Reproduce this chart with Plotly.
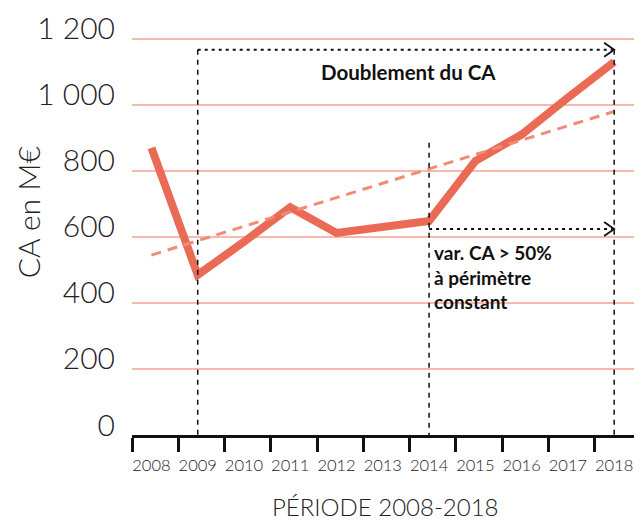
import plotly.graph_objects as go

years = [2008, 2009, 2010, 2011, 2012, 2013, 2014, 2015, 2016, 2017, 2018]
year_labels = ["2008", "2009", "2010", "2011", "2012", "2013", "2014", "2015", "2016", "2017", "2018"]
ca_values = [870, 485, 585, 690, 612, 628, 648, 830, 910, 1022, 1130]
trend_years = [2008, 2018]
trend_values = [545, 980]
y_tickvals = [0, 200, 400, 600, 800, 1000, 1200]
y_ticktext = ["0", "200", "400", "600", "800", "1 000", "1 200"]

LINE = "#eb6a55"
TREND = "#f08b76"
GRID = "#f9b8ac"
TXT = "#222222"
FONT = "Lato"
INK = "#111111"

fig = go.Figure()
fig.add_trace(go.Scatter(x=years, y=ca_values, mode="lines",
                         line=dict(color=LINE, width=8), hoverinfo="skip"))
fig.add_trace(go.Scatter(x=trend_years, y=trend_values, mode="lines",
                         line=dict(color=TREND, width=3, dash="10px,7px"), hoverinfo="skip"))

top_y = 1167
mid_y = 624
# vertical dashed guides
for yr, y0 in [(2009, top_y), (2018, top_y), (2014, 885)]:
    fig.add_shape(type="line", xref="x", yref="y", x0=yr, x1=yr, y0=y0, y1=-42,
                  line=dict(color=INK, width=1.5, dash="5px,5px"), layer="above")
# horizontal dotted arrows
for x0, yv in [(2009, top_y), (2014, mid_y)]:
    fig.add_shape(type="line", xref="x", yref="y", x0=x0, x1=2018, y0=yv, y1=yv,
                  line=dict(color=INK, width=2, dash="3px,4px"), layer="above")
    fig.add_shape(type="path", xref="x", yref="y", xsizemode="pixel", ysizemode="pixel",
                  xanchor=2018, yanchor=yv, path="M -10 7 L 0 0 L -10 -7",
                  line=dict(color=INK, width=1.8), layer="above")

fig.add_annotation(x=0.544, xref="paper", y=1100, yref="y", text="<b>Doublement du CA</b>",
                   showarrow=False, font=dict(family=FONT, size=20.5, color=INK))
fig.add_annotation(x=2014, xref="x", y=594, yref="y", xanchor="left", yanchor="top", xshift=3,
                   text="<b>var. CA > 50%<br>à périmètre<br>constant</b>", align="left",
                   showarrow=False, font=dict(family=FONT, size=19, color=INK))
fig.add_annotation(x=-0.204, xref="paper", y=0.536, yref="paper", text="CA en M€", textangle=-90,
                   xanchor="center", yanchor="middle",
                   showarrow=False, font=dict(family=FONT, size=30, color=TXT, weight=300))
fig.add_annotation(x=0.499, xref="paper", y=-0.172, yref="paper", text="PÉRIODE 2008-2018",
                   xanchor="center", yanchor="middle",
                   showarrow=False, font=dict(family=FONT, size=24, color=TXT, weight=300))

fig.update_layout(
    width=634, height=518,
    margin=dict(l=124, r=1, t=11, b=91, autoexpand=False),
    paper_bgcolor="white", plot_bgcolor="white",
    showlegend=False,
    font=dict(family=FONT, color=TXT, weight=300),
    xaxis=dict(range=[2007.58, 2018.58], tickvals=years, ticktext=year_labels, ticks="",
               ticklabelstandoff=13,
               minor=dict(ticks="outside", tickmode="linear", tick0=2007.58, dtick=1,
                          ticklen=14, tickwidth=3, tickcolor=INK, showgrid=False),
               showline=True, linecolor=INK, linewidth=3, zeroline=False,
               showgrid=False, tickfont=dict(size=16.5, color=TXT, weight=300), automargin=False,
               fixedrange=True),
    yaxis=dict(range=[0, 1260], tickvals=y_tickvals, ticktext=y_ticktext, automargin=False,
               showgrid=True, gridcolor=GRID, gridwidth=1.5, zeroline=False, showline=False,
               ticks="", ticklabelstandoff=16, ticklabelshift=-10,
               tickfont=dict(size=30, color=TXT, weight=300),
               fixedrange=True),
)

fig.write_html("out.html")
